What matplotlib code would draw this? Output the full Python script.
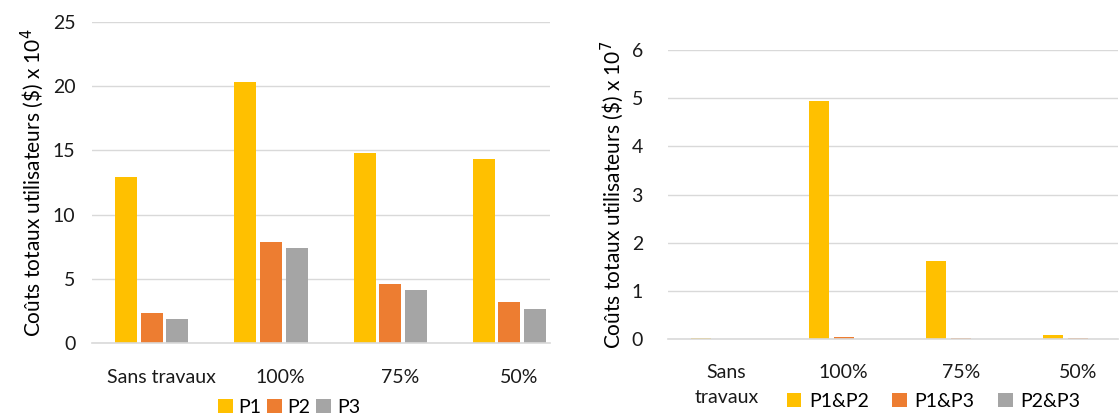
import numpy as np
import matplotlib.pyplot as plt

plt.rcParams['font.family'] = ['Lato', 'DejaVu Sans']

cats_left = ["Sans travaux", "100%", "75%", "50%"]
cats_right = ["Sans\ntravaux", "100%", "75%", "50%"]

p1 = [12.9, 20.35, 14.8, 14.3]
p2 = [2.3, 7.85, 4.6, 3.2]
p3 = [1.9, 7.4, 4.15, 2.65]

p1p2 = [0.012, 4.94, 1.62, 0.09]
p1p3 = [0.01, 0.035, 0.015, 0.015]
p2p3 = [0.006, 0.008, 0.006, 0.006]

colors = ["#FFC000", "#ED7D31", "#A5A5A5"]
W, H = 1120, 417
fig = plt.figure(figsize=(W / 100, H / 100), dpi=100)


def style(ax, ylim, step):
    ax.set_ylim(*ylim)
    ax.set_yticks(np.arange(ylim[0], ylim[1] + 0.01, step))
    for s in ["top", "right", "left"]:
        ax.spines[s].set_visible(False)
    ax.spines["bottom"].set_color("#D9D9D9")
    ax.spines["bottom"].set_linewidth(1.2)
    ax.grid(axis="y", color="#D9D9D9", linewidth=1)
    ax.set_axisbelow(True)
    ax.tick_params(length=0, labelsize=14, colors="#1a1a1a")


# left chart
axl = fig.add_axes([92 / W, (H - 343) / H, (550 - 92) / W, (343 - 22) / H])
x = np.arange(len(cats_left))
bw, off = 0.185, 0.215
for i, (vals, lab) in enumerate(zip([p1, p2, p3], ["P1", "P2", "P3"])):
    axl.bar(x + (i - 1) * off, vals, bw, color=colors[i], label=lab)
axl.set_xlim(-0.5, 3.34)
style(axl, (0, 25), 5)
axl.set_xticks(x + 0.08)
axl.set_xticklabels(cats_left)
axl.tick_params(axis="x", pad=19)
axl.tick_params(axis="y", pad=12)
axl.set_ylabel(r"Coûts totaux utilisateurs (\$) x 10$^{4}$", fontsize=15, labelpad=5)
axl.legend(loc="center", bbox_to_anchor=(0.43, -0.2), ncol=3, frameon=False,
           fontsize=14, handlelength=0.75, handleheight=0.75, handletextpad=0.3,
           columnspacing=0.3, borderaxespad=0)

# right chart
axr = fig.add_axes([668 / W, (H - 339) / H, (1118 - 668) / W, (339 - 50) / H])
bw2 = 0.171
for i, (vals, lab) in enumerate(zip([p1p2, p1p3, p2p3], ["P1&P2", "P1&P3", "P2&P3"])):
    axr.bar(x + (i - 1) * off, vals, bw2, color=colors[i], label=lab)
axr.set_xlim(-0.5, 3.34)
style(axr, (0, 6), 1)
axr.set_xticks(x)
axr.set_xticklabels(cats_right, linespacing=1.6)
axr.tick_params(axis="x", pad=18)
axr.tick_params(axis="y", pad=18)
axr.set_ylabel(r"Coûts totaux utilisateurs (\$) x 10$^{7}$", fontsize=15, labelpad=4)
axr.legend(loc="center", bbox_to_anchor=(0.59, -0.215), ncol=3, frameon=False,
           fontsize=14, handlelength=0.75, handleheight=0.75, handletextpad=0.4,
           columnspacing=1.2, borderaxespad=0)

fig.savefig("out.png", dpi=100)
